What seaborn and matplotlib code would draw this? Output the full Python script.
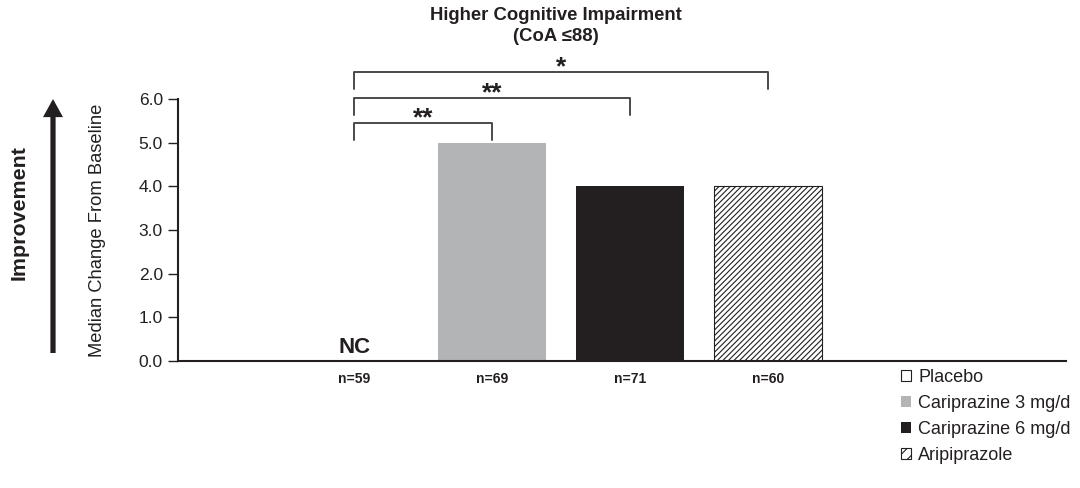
import matplotlib
matplotlib.use('Agg')
import matplotlib.pyplot as plt
import matplotlib.patches as mpatches
import seaborn as sns
import pandas as pd

groups = ['Placebo', 'Cariprazine 3 mg/d', 'Cariprazine 6 mg/d', 'Aripiprazole']
medians = [0.0, 5.0, 4.0, 4.0]
n_labels = ['n=59', 'n=69', 'n=71', 'n=60']
colors = ['#ffffff', '#b3b4b6', '#231f20', '#ffffff']
# brackets: (from group, to group, bracket height, label)
brackets = [(0, 1, 5.45, '**'), (0, 2, 6.02, '**'), (0, 3, 6.62, '*')]

sns.set_style('white')
plt.rcParams['font.family'] = ['Liberation Sans', 'DejaVu Sans']
plt.rcParams['hatch.linewidth'] = 0.8

df = pd.DataFrame({'group': groups, 'median': medians})

fig = plt.figure(figsize=(10.8, 4.88), dpi=100)
ax = fig.add_axes([0.165, 0.26, 0.822, 0.537])

sns.barplot(data=df, x='group', y='median', hue='group', order=groups,
            palette=dict(zip(groups, colors)), width=0.78, legend=False,
            saturation=1, ax=ax)

for i, bar in enumerate(ax.patches[:4]):
    bar.set_edgecolor('none')
    if groups[i] == 'Aripiprazole':
        bar.set_hatch('//////')
        bar.set_edgecolor('#231f20')
        bar.set_linewidth(0.8)

ax.set_xlim(-1.275, 5.16)
ax.set_ylim(0, 6)
ax.set_yticks([0, 1, 2, 3, 4, 5, 6])
ax.set_yticklabels([f'{v:.1f}' for v in range(7)], fontsize=12.5, color='#231f20')
ax.set_xticks([])
ax.set_xlabel('')
ax.set_ylabel('Median Change From Baseline', fontsize=13.2, color='#231f20')
ax.yaxis.set_label_coords(-0.081, 0.5)
ax.tick_params(axis='y', direction='out', length=7, width=1, color='#231f20', left=True, pad=4)

sns.despine(ax=ax)
ax.spines['left'].set_color('#231f20')
ax.spines['bottom'].set_color('#231f20')
ax.spines['left'].set_linewidth(1.5)
ax.spines['bottom'].set_linewidth(1.5)

# NC and n labels
ax.text(0, 0.18, 'NC', ha='center', va='baseline', fontsize=16, fontweight='bold', color='#231f20')
for i, lab in enumerate(n_labels):
    ax.text(i, -0.4, lab, ha='center', va='center', fontsize=10, fontweight='bold', color='#231f20')

# significance brackets
for a, b, h, lab in brackets:
    drop = 0.38
    ax.plot([a, a, b, b], [h - drop, h, h, h - drop], color='#4a4a4a', lw=1.4, clip_on=False)
    ax.text((a + b) / 2, h - 0.05, lab, ha='center', va='baseline', fontsize=19,
            fontweight='bold', color='#231f20')

fig.text(556 / 1080, 1 - 7 / 488, 'Higher Cognitive Impairment\n(CoA \u226488)', ha='center', va='top',
         fontsize=13.3, fontweight='bold', color='#231f20', linespacing=1.3)

# improvement arrow
ax.annotate('', xy=(53 / 1080, 1 - 99 / 488), xytext=(53 / 1080, 1 - 353 / 488),
            xycoords='figure fraction', textcoords='figure fraction', annotation_clip=False,
            arrowprops=dict(arrowstyle='simple,head_length=0.87,head_width=0.96,tail_width=0.25',
                            fc='#231f20', ec='none', mutation_scale=15, shrinkA=0, shrinkB=0))
fig.text(19 / 1080, 1 - 213 / 488, 'Improvement', rotation=90, ha='center', va='center',
         fontsize=15.4, fontweight='bold', color='#231f20')

handles = [mpatches.Patch(facecolor='white', edgecolor='#231f20', lw=0.8, label=groups[0]),
           mpatches.Patch(facecolor=colors[1], edgecolor='none', label=groups[1]),
           mpatches.Patch(facecolor=colors[2], edgecolor='none', label=groups[2]),
           mpatches.Patch(facecolor='white', edgecolor='#231f20', lw=0.8, hatch='///', label=groups[3])]
leg = fig.legend(handles=handles, loc='upper left', bbox_to_anchor=(901 / 1080, 1 - 369 / 488),
                 frameon=False, fontsize=13, handlelength=0.55, handleheight=0.55,
                 handletextpad=0.4, labelspacing=0.49, borderaxespad=0, borderpad=0)
for t in leg.get_texts():
    t.set_color('#231f20')

fig.savefig('out.png', dpi=100)
